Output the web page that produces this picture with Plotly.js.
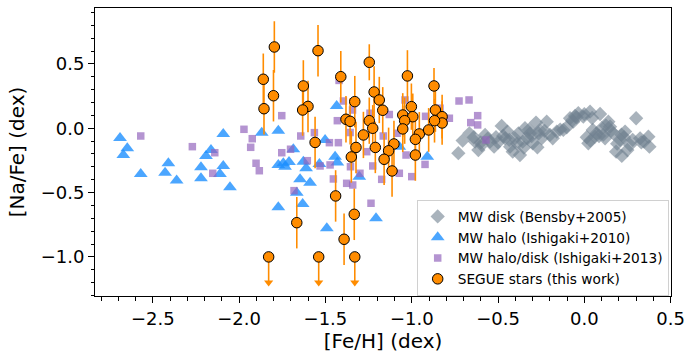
<!DOCTYPE html>
<html>
<head>
<meta charset="utf-8">
<script src="https://cdn.plot.ly/plotly-3.0.1.min.js"></script>
<style>html,body{margin:0;padding:0;background:#fff;}#chart{width:685px;height:353px;}</style>
</head>
<body>
<div id="chart"></div>
<script>
// MW disk (Bensby+2005)
const fehDisk = [-0.730,-0.705,-0.666,-0.633,-0.614,-0.594,-0.575,-0.546,-0.523,-0.512,-0.479,-0.459,-0.446,-0.430,-0.415,-0.402,-0.382,-0.373,-0.357,-0.344,-0.330,-0.315,-0.299,-0.280,-0.272,-0.257,-0.247,-0.218,-0.199,-0.183,-0.160,-0.122,-0.102,-0.083,-0.064,-0.054,-0.035,-0.006,0.014,0.023,0.033,0.049,0.062,0.091,0.101,0.120,0.139,0.149,0.168,0.184,0.207,0.217,0.236,0.249,0.265,0.300,0.323,0.346,0.371,0.377,
  -0.47,-0.435,-0.32,-0.305,-0.07,-0.045,0.07,0.085,0.11,0.215,0.23,-0.56,-0.60,-0.64,-0.39,-0.265,-0.23,-0.14,0.035,0.155,0.19,0.28,0.33,-0.50,-0.35,0.00,0.045,0.125];
const nafeDisk = [-0.194,-0.096,-0.039,-0.104,-0.169,-0.130,-0.052,-0.104,-0.143,-0.070,0.018,-0.078,-0.026,-0.143,-0.182,-0.078,-0.039,-0.208,-0.104,0.000,-0.078,-0.039,-0.117,0.044,-0.148,-0.013,-0.078,0.051,-0.052,-0.078,-0.026,-0.013,0.008,0.078,0.051,0.096,0.117,0.090,-0.070,-0.117,0.129,-0.013,-0.065,0.111,0.000,-0.078,0.051,0.012,-0.039,-0.182,-0.091,-0.215,-0.026,-0.169,-0.130,0.078,-0.078,-0.104,-0.065,-0.143,
  -0.06,-0.09,-0.01,-0.06,0.06,0.085,-0.04,-0.06,-0.05,-0.05,-0.07,-0.08,-0.11,-0.07,-0.12,-0.04,-0.02,-0.01,-0.095,-0.02,-0.12,-0.09,-0.11,-0.11,-0.15,0.11,0.08,0.02];

// MW halo (Ishigaki+2010)
const fehHalo = [-2.690,-2.648,-2.671,-2.570,-2.429,-2.410,-2.362,-2.221,-2.221,-2.192,-2.163,-2.111,-2.092,-2.092,-2.053,-1.869,-1.773,-1.773,-1.744,-1.711,-1.734,-1.773,-1.686,-1.628,-1.612,-1.647,-1.589,-1.666,-1.632,-1.535,-1.502,-1.444,-1.431,-1.435,-1.492,-1.304,-1.207,-1.072,-0.910];
const nafeHalo = [-0.075,-0.156,-0.208,-0.355,-0.345,-0.272,-0.407,-0.303,-0.389,-0.215,-0.169,-0.355,-0.044,-0.293,-0.459,-0.034,-0.019,-0.285,-0.272,-0.262,-0.299,-0.614,-0.163,-0.260,-0.311,-0.397,-0.423,-0.501,-0.589,-0.278,-0.091,-0.221,-0.267,0.173,-0.778,-0.376,-0.700,-0.143,-0.221];

// MW halo/disk (Ishigaki+2013)
const fehHaloDisk = [-2.570,-2.271,-2.141,-2.153,-1.972,-1.924,-1.933,-1.902,-1.883,-1.753,-1.753,-1.702,-1.643,-1.564,-1.605,-1.682,-1.531,-1.477,-1.425,-1.473,-1.454,-1.377,-1.342,-1.431,-1.396,-1.343,-1.421,-1.357,-1.355,-1.300,-1.261,-1.226,-1.174,-1.165,-1.130,-1.236,-1.072,-1.039,-1.033,-1.000,-0.920,-0.923,-0.836,-0.782,-0.726,-0.668,-0.618,-0.658,-0.618,-0.570,-1.085,-1.242];
const nafeHaloDisk = [-0.060,-0.143,-0.190,-0.350,-0.008,-0.081,-0.148,-0.272,-0.330,0.098,-0.190,-0.163,-0.060,-0.034,-0.252,-0.485,-0.293,-0.112,-0.112,-0.285,-0.394,-0.428,-0.441,0.059,0.212,0.142,0.372,-0.033,-0.299,-0.350,-0.182,-0.293,-0.397,-0.060,0.107,-0.583,-0.350,0.220,-0.208,-0.376,0.093,-0.281,0.156,0.078,0.212,0.220,0.098,0.044,0.026,-0.091,-0.039,0.117];

// SEGUE stars (this work) - measurements
const fehSegue = [-1.860,-1.856,-1.796,-1.801,-1.543,-1.628,-1.601,-1.632,-1.560,-1.411,-1.330,-1.381,-1.357,-1.323,-1.350,-1.441,-1.333,-1.666,-1.392,-1.246,-1.218,-1.188,-1.168,-1.025,-0.871,-1.002,-1.052,-0.994,-1.041,-0.863,-0.824,-0.824,-0.868,-1.246,-1.226,-1.280,-1.052,-0.956,-0.902,-0.979,-1.211,-1.103,-1.134,-1.160,-0.979,-1.114];
const nafeSegue = [0.381,0.152,0.632,0.253,0.603,0.329,0.170,0.142,-0.110,0.401,0.207,0.070,0.054,-0.149,-0.223,-0.526,-0.669,-0.734,-0.863,0.513,0.282,0.220,0.140,0.407,0.329,0.168,0.103,0.090,0.059,0.142,0.090,0.041,0.059,0.059,0.000,-0.052,-0.005,-0.044,-0.013,-0.086,-0.149,-0.122,-0.175,-0.241,-0.208,-0.332];
const errSegue = [0.20,0.20,0.20,0.20,0.20,0.20,0.20,0.20,0.20,0.20,0.20,0.18,0.18,0.20,0.20,0.20,0.20,0.20,0.20,0.14,0.20,0.18,0.18,0.20,0.14,0.18,0.17,0.18,0.18,0.17,0.17,0.17,0.17,0.18,0.18,0.18,0.18,0.17,0.17,0.17,0.20,0.18,0.18,0.20,0.20,0.20];

// SEGUE stars - upper limits
const fehSegueLim = [-1.829,-1.539,-1.330];
const nafeSegueLim = [-1.0,-1.0,-1.0];
const limLen = 0.2;

const orange = '#ff8c00';
const traces = [
  {x: fehDisk, y: nafeDisk, type: 'scatter', mode: 'markers', name: 'MW disk (Bensby+2005)',
   marker: {symbol: 'diamond', size: 11, color: 'rgba(112,128,144,0.6)', line: {width: 0}}},
  {x: fehHalo, y: nafeHalo, type: 'scatter', mode: 'markers', name: 'MW halo (Ishigaki+2010)',
   marker: {symbol: 'triangle-up', size: 12, color: 'rgba(30,144,255,0.8)', line: {width: 0}}},
  {x: fehHaloDisk, y: nafeHaloDisk, type: 'scatter', mode: 'markers', name: 'MW halo/disk (Ishigaki+2013)',
   marker: {symbol: 'square', size: 7.5, color: 'rgba(148,103,189,0.7)', line: {width: 0}}},
  {x: fehSegue, y: nafeSegue, type: 'scatter', mode: 'markers', name: 'SEGUE stars (this work)',
   error_y: {type: 'data', array: errSegue, visible: true, color: orange, thickness: 1.6, width: 0},
   marker: {symbol: 'circle', size: 10.5, color: orange, line: {width: 1, color: '#000'}}},
  {x: fehSegueLim, y: nafeSegueLim, type: 'scatter', mode: 'markers', showlegend: false,
   error_y: {type: 'data', symmetric: false, array: fehSegueLim.map(() => 0), arrayminus: fehSegueLim.map(() => limLen), visible: true, color: orange, thickness: 1.6, width: 0},
   marker: {symbol: 'circle', size: 10.5, color: orange, line: {width: 1, color: '#000'}}},
  {x: fehSegueLim, y: nafeSegueLim.map(v => v - limLen), type: 'scatter', mode: 'markers', showlegend: false,
   marker: {symbol: 'triangle-down', size: 8, color: orange, line: {width: 0}}}
];

const axisCommon = {
  showline: true, linecolor: '#000', linewidth: 1, mirror: true,
  ticks: 'outside', ticklen: 6, tickwidth: 1, tickcolor: '#000',
  showgrid: false, zeroline: false, tickformat: '.1f',
  tickfont: {family: 'DejaVu Sans', size: 18, color: '#000'},
  minor: {ticks: 'outside', ticklen: 3.5, tickwidth: 1, tickcolor: '#000', dtick: 0.1, tick0: 0, showgrid: false}
};

const layout = {
  width: 685, height: 353,
  margin: {l: 95, r: 14, t: 8, b: 57},
  paper_bgcolor: '#fff', plot_bgcolor: '#fff',
  font: {family: 'DejaVu Sans', color: '#000'},
  xaxis: Object.assign({}, axisCommon, {
    range: [-2.835, 0.502], dtick: 0.5, tick0: 0,
    title: {text: '[Fe/H] (dex)', font: {family: 'DejaVu Sans', size: 20, color: '#000'}, standoff: 5}
  }),
  yaxis: Object.assign({}, axisCommon, {
    range: [-1.304, 0.935], dtick: 0.5, tick0: 0,
    title: {text: '[Na/Fe] (dex)', font: {family: 'DejaVu Sans', size: 20, color: '#000'}, standoff: 10}
  }),
  showlegend: true,
  legend: {
    x: 0.5585, y: 0.0, xanchor: 'left', yanchor: 'bottom',
    bgcolor: 'rgba(255,255,255,0.85)', bordercolor: '#d0d0d0', borderwidth: 1,
    font: {family: 'DejaVu Sans', size: 13.7, color: '#000'},
    traceorder: 'normal', tracegroupgap: 0
  }
};

Plotly.newPlot('chart', traces, layout, {displayModeBar: false, staticPlot: true});
</script>
</body>
</html>
